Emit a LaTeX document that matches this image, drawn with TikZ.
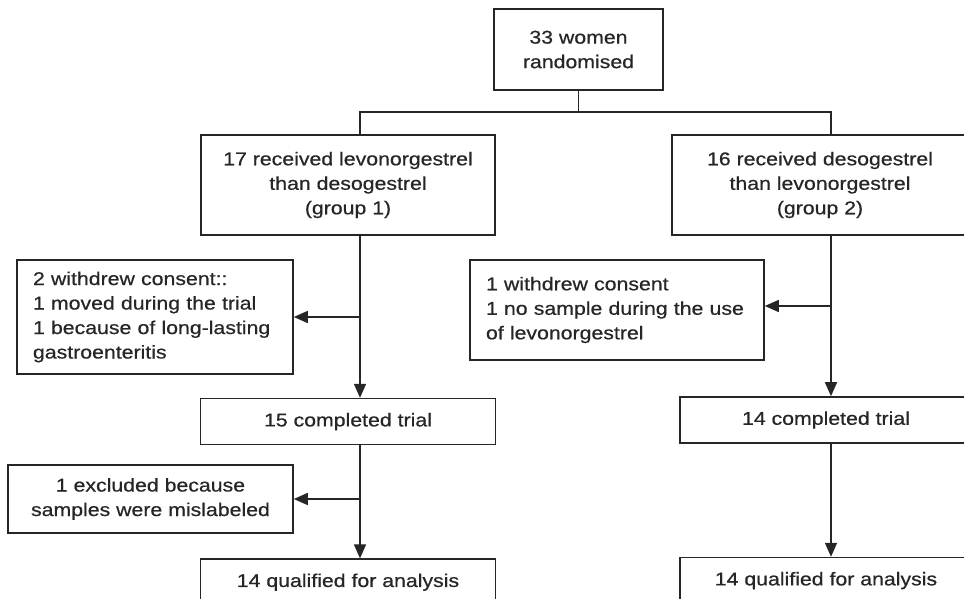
\documentclass[tikz,border=0pt]{standalone}
\usepackage{fontspec}
\setmainfont{Liberation Sans}[FakeStretch=1.15,FakeBold=0.6]
\usetikzlibrary{positioning,arrows.meta}

\begin{document}
\begin{tikzpicture}[
  x=1pt, y=-1pt,
  font=\fontsize{18.5}{24.5}\selectfont,
  box/.style={draw=black!85, line width=1.6pt, align=center, inner sep=0pt, text=black!85},
  note/.style={box, align=left, inner xsep=16pt},
  link/.style={draw=black!85, line width=1.5pt},
  flow/.style={link, -{Triangle[length=14pt,width=12pt]}}
]
\useasboundingbox (0,0) rectangle (964,599);

\node[box, minimum width=169pt, minimum height=81pt] (rand) at (578.5,49.5) {33 women\\randomised};
\node[box, minimum width=294pt, minimum height=100pt] (grp1) at (348,185) {17 received levonorgestrel\\than desogestrel\\(group 1)};
\node[box, minimum width=296pt, minimum height=100pt] (grp2) at (820,185) {16 received desogestrel\\than levonorgestrel\\(group 2)};
\node[note, text width=244pt, minimum height=114pt] (wd1) at (155,317) {2 withdrew consent::\\1 moved during the trial\\1 because of long-lasting\\gastroenteritis};
\node[note, text width=262pt, minimum height=100pt] (wd2) at (617,310) {1 withdrew consent\\1 no sample during the use\\of levonorgestrel};
\node[box, minimum width=295pt, minimum height=46pt, below=162pt of grp1] (done1) {15 completed trial};
\node[box, minimum width=292pt, minimum height=46pt] (done2) at (826,420) {14 completed trial};
\node[box, minimum width=285pt, minimum height=68pt] (excl) at (150.5,499) {1 excluded because\\samples were mislabeled};
\node[box, minimum width=295pt, minimum height=46pt, below=113pt of done1] (qual1) {14 qualified for analysis};
\node[box, minimum width=292pt, minimum height=46pt, below=113pt of done2] (qual2) {14 qualified for analysis};

% spines of the two arms
\coordinate (spine1) at (360,0);
\coordinate (spine2) at (831,0);
\coordinate (split) at (578.5,112);

\draw[link] (rand.south) -- (split);
\draw[link] (grp1.north -| spine1) |- (split) -| (grp2.north -| spine2);

\draw[flow] (grp1.south -| spine1) -- (done1.north -| spine1);
\draw[flow] (wd1.east -| spine1) -- (wd1.east);
\draw[flow] (done1.south -| spine1) -- (qual1.north -| spine1);
\draw[flow] (excl.east -| spine1) -- (excl.east);

\draw[flow] (grp2.south -| spine2) -- (done2.north -| spine2);
\draw[flow] ([yshift=4pt]wd2.east -| spine2) -- ([yshift=4pt]wd2.east);
\draw[flow] (done2.south -| spine2) -- (qual2.north -| spine2);
\end{tikzpicture}
\end{document}
